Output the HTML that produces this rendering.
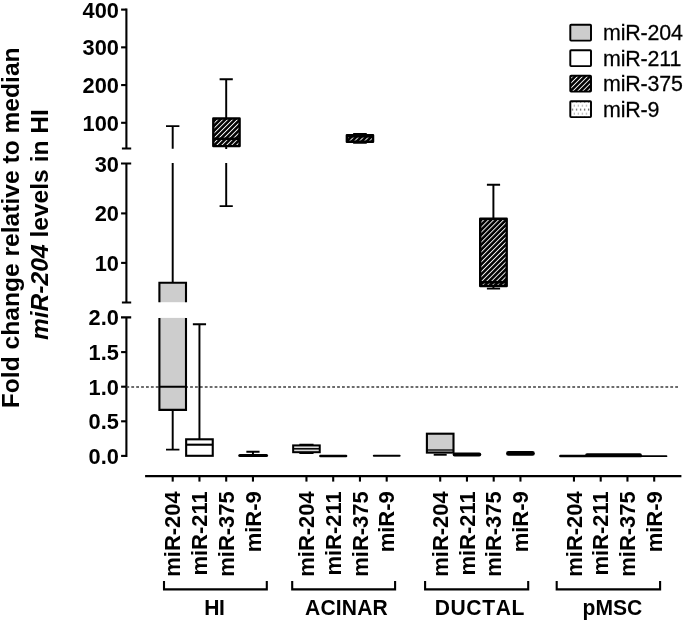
<!DOCTYPE html>
<html lang="en"><head><meta charset="utf-8"><title>Fold change relative to median miR-204 levels in HI</title>
<style>html,body{margin:0;padding:0;background:#fff}body{width:685px;height:621px;overflow:hidden}svg{display:block;will-change:transform;filter:grayscale(1)}</style>
</head><body>
<svg width="685" height="621" viewBox="0 0 685 621">
<defs>
<pattern id="hatch" width="3.5" height="3.5" patternUnits="userSpaceOnUse" patternTransform="rotate(-45)">
<rect width="3.5" height="3.5" fill="#000"/><rect y="0" width="3.5" height="0.95" fill="#f4f4f4"/>
</pattern>
<pattern id="dots" width="4.05" height="8" patternUnits="userSpaceOnUse" x="569.4" y="103.6">
<rect width="4.05" height="8" fill="#fff"/>
<circle cx="0.95" cy="2" r="0.6" fill="#333"/><circle cx="3" cy="6" r="0.72" fill="#111"/>
</pattern>
</defs>
<rect width="685" height="621" fill="#fff"/>
<g font-family="'Liberation Sans', Arial, sans-serif" font-weight="bold" font-size="24.6" fill="#000" text-anchor="middle">
<text transform="translate(19.3 227.8) rotate(-90)">Fold change relative to median</text>
<text transform="translate(48.3 224.6) rotate(-90)"><tspan font-style="italic">miR-204</tspan> levels in HI</text>
</g>
<g stroke="#000" stroke-width="2.1" fill="none" stroke-linecap="butt">
<path d="M126.4 8.6V148.5M121.9 148.5H131.2"/>
<path d="M121.1 9.61H126.4"/>
<path d="M121.1 47.34H126.4"/>
<path d="M121.1 85.07H126.4"/>
<path d="M121.1 122.8H126.4"/>
<path d="M126.4 163.5V302.5M121 163.5H131.2M121.9 302.5H131.2"/>
<path d="M121.1 213.4H126.4"/>
<path d="M121.1 262.9H126.4"/>
<path d="M126.4 317.4V456.9M121 317.4H131.2"/>
<path d="M121.1 352.1H126.4"/>
<path d="M121.1 386.7H126.4"/>
<path d="M121.1 421.3H126.4"/>
<path d="M121.1 455.9H126.4"/>
<path d="M145.1 476.1H681.4"/>
<path d="M172.7 476.1V481.6"/>
<path d="M199.45 476.1V481.6"/>
<path d="M226.2 476.1V481.6"/>
<path d="M252.95 476.1V481.6"/>
<path d="M306.45 476.1V481.6"/>
<path d="M333.2 476.1V481.6"/>
<path d="M359.95 476.1V481.6"/>
<path d="M386.7 476.1V481.6"/>
<path d="M440.2 476.1V481.6"/>
<path d="M466.95 476.1V481.6"/>
<path d="M493.7 476.1V481.6"/>
<path d="M520.45 476.1V481.6"/>
<path d="M573.95 476.1V481.6"/>
<path d="M600.7 476.1V481.6"/>
<path d="M627.45 476.1V481.6"/>
<path d="M654.2 476.1V481.6"/>
</g>
<path d="M126.4 387H679.6" stroke="#3c3c3c" stroke-width="1.55" stroke-dasharray="2.8 2.1" fill="none"/>
<g font-family="'Liberation Sans', Arial, sans-serif" font-weight="bold" font-size="21.8" fill="#000" text-anchor="end">
<text transform="translate(118.9 17.51) scale(1 1.045)">400</text>
<text transform="translate(118.9 55.24) scale(1 1.045)">300</text>
<text transform="translate(118.9 92.97) scale(1 1.045)">200</text>
<text transform="translate(118.9 130.7) scale(1 1.045)">100</text>
<text transform="translate(118.9 171.8) scale(1 1.045)">30</text>
<text transform="translate(118.9 221.3) scale(1 1.045)">20</text>
<text transform="translate(118.9 270.8) scale(1 1.045)">10</text>
<text transform="translate(118.9 325.4) scale(1 1.045)">2.0</text>
<text transform="translate(118.9 360) scale(1 1.045)">1.5</text>
<text transform="translate(118.9 394.6) scale(1 1.045)">1.0</text>
<text transform="translate(118.9 429.2) scale(1 1.045)">0.5</text>
<text transform="translate(118.9 463.8) scale(1 1.045)">0.0</text>
</g>
<g font-family="'Liberation Sans', Arial, sans-serif" font-weight="bold" font-size="22" fill="#000" text-anchor="end">
<text transform="translate(180.3 491.2) rotate(-90) scale(1 1.035)">miR-204</text>
<text transform="translate(207.05 491.2) rotate(-90) scale(1 1.035)">miR-211</text>
<text transform="translate(233.8 491.2) rotate(-90) scale(1 1.035)">miR-375</text>
<text transform="translate(260.55 491.2) rotate(-90) scale(1 1.035)">miR-9</text>
<text transform="translate(314.05 491.2) rotate(-90) scale(1 1.035)">miR-204</text>
<text transform="translate(340.8 491.2) rotate(-90) scale(1 1.035)">miR-211</text>
<text transform="translate(367.55 491.2) rotate(-90) scale(1 1.035)">miR-375</text>
<text transform="translate(394.3 491.2) rotate(-90) scale(1 1.035)">miR-9</text>
<text transform="translate(447.8 491.2) rotate(-90) scale(1 1.035)">miR-204</text>
<text transform="translate(474.55 491.2) rotate(-90) scale(1 1.035)">miR-211</text>
<text transform="translate(501.3 491.2) rotate(-90) scale(1 1.035)">miR-375</text>
<text transform="translate(528.05 491.2) rotate(-90) scale(1 1.035)">miR-9</text>
<text transform="translate(581.55 491.2) rotate(-90) scale(1 1.035)">miR-204</text>
<text transform="translate(608.3 491.2) rotate(-90) scale(1 1.035)">miR-211</text>
<text transform="translate(635.05 491.2) rotate(-90) scale(1 1.035)">miR-375</text>
<text transform="translate(661.8 491.2) rotate(-90) scale(1 1.035)">miR-9</text>
</g>
<g stroke="#000" stroke-width="2.1" fill="none">
<path d="M164 580.9V589.4H266.8V580.9"/>
<path d="M292.2 580.9V589.4H395.1V580.9"/>
<path d="M425.1 580.9V589.4H528.2V580.9"/>
<path d="M556.7 580.9V589.4H660.1V580.9"/>
</g>
<g font-family="'Liberation Sans', Arial, sans-serif" font-weight="bold" font-size="21.1" fill="#000" style="font-kerning:none">
<text transform="translate(204.3 614.8) scale(1 1.045)" letter-spacing="-0.5">HI</text>
<text transform="translate(305.1 614.8) scale(1 1.045)" letter-spacing="0.15">ACINAR</text>
<text transform="translate(434.7 614.8) scale(1 1.045)" letter-spacing="0.6">DUCTAL</text>
<text transform="translate(582.6 614.8) scale(1 1.045)" letter-spacing="0">pMSC</text>
</g>
<g stroke="#000" fill="none">
<path d="M166 126.1H179.4M172.7 126.1V148.8M172.7 163V282.7" stroke-width="1.95"/>
<rect x="159.4" y="282.7" width="26.6" height="19.5" fill="#cdcdcd" stroke="none"/>
<path d="M159.4 302.2V282.7H186V302.2" stroke-width="2.1"/>
<rect x="159.4" y="317.9" width="26.6" height="91.98" fill="#cdcdcd" stroke="none"/>
<path d="M159.4 317.9V409.88H186V317.9M159.4 386.7H186" stroke-width="2.1"/>
<path d="M172.7 409.88V449.6M166 449.6H179.4" stroke-width="1.95"/>
<path d="M192.85 324.3H206.05M199.45 324.3V439" stroke-width="1.95"/>
<rect x="186.15" y="439.3" width="26.6" height="16.5" fill="#fff" stroke="#000" stroke-width="2.1"/>
<path d="M186.15 444.7H212.75" stroke-width="2.1"/>
<path d="M219.6 79.3H232.8M226.2 79.3V148.9M226.2 163V206.1M219.6 206.1H232.8" stroke-width="1.95"/>
<rect x="213.3" y="118.5" width="26.3" height="27.6" fill="url(#hatch)" stroke="#000" stroke-width="2.4" stroke-linejoin="round"/>
<path d="M213.3 138.8H239.6" stroke-width="2.6"/>
<path d="M246.35 451.7H259.55M252.95 451.7V455" stroke-width="1.95"/>
<path d="M239.75 455.6H266.55" stroke-width="3" stroke-linecap="round"/>
<path d="M299.35 444.4H313.55M299.35 453.2H313.55" stroke-width="1.4"/>
<rect x="293.15" y="445.4" width="26.6" height="6.8" fill="#dadada" stroke="#000" stroke-width="2"/>
<path d="M293.15 448.8H319.75" stroke-width="1.5"/>
<path d="M320.4 456H346" stroke-width="2.6" stroke-linecap="round"/>
<rect x="346.85" y="135.2" width="26.2" height="6.5" fill="url(#hatch)" stroke="#000" stroke-width="2.4" stroke-linejoin="round"/>
<path d="M346.85 136.6H373.05" stroke-width="2"/>
<path d="M353.15 133.7H366.75M353.15 143.1H366.75" stroke-width="1.3"/>
<path d="M373.8 455.8H399.6" stroke-width="2" stroke-linecap="round"/>
<rect x="426.9" y="433.7" width="26.6" height="18.9" fill="#cdcdcd" stroke="#000" stroke-width="2.1"/>
<path d="M426.9 450H453.5" stroke-width="1.3"/>
<path d="M433.7 454.8H446.7" stroke-width="1.8"/>
<path d="M454.65 454.4H479.25" stroke-width="4" stroke-linecap="round"/>
<path d="M486.9 184.7H500.1M493.4 184.7V218M493.4 286V288.6M486.9 288.6H500.1" stroke-width="1.95"/>
<rect x="480.2" y="218.8" width="26.5" height="67.2" fill="url(#hatch)" stroke="#000" stroke-width="2.4" stroke-linejoin="round"/>
<path d="M480.2 282.3H506.7" stroke-width="2.6"/>
<path d="M508.45 453.4H532.45" stroke-width="4.8" stroke-linecap="round"/>
<path d="M560.4 456.2H666.5" stroke-width="1.7" stroke-linecap="round"/>
<path d="M560.4 456H641" stroke-width="2.4" stroke-linecap="round"/>
<path d="M587 455H640" stroke-width="3.6" stroke-linecap="round"/>
</g>
<g stroke="#000" stroke-width="1.95">
<rect x="570.3" y="24.8" width="20.7" height="15.8" rx="0.8" fill="#cdcdcd"/>
<rect x="570.3" y="50.3" width="20.7" height="15.8" rx="0.8" fill="#fff"/>
<rect x="570.3" y="75.8" width="20.7" height="15.8" rx="0.8" fill="url(#hatch)"/>
<rect x="570.3" y="101.3" width="20.7" height="15.8" rx="0.8" fill="url(#dots)"/>
</g>
<g font-family="'Liberation Sans', Arial, sans-serif" font-size="21.4" fill="#000" stroke="#000" stroke-width="0.25" letter-spacing="-0.15">
<text transform="translate(603 40.3) scale(1 1.05)">miR-204</text>
<text transform="translate(603 65.8) scale(1 1.05)">miR-211</text>
<text transform="translate(603 91.3) scale(1 1.05)">miR-375</text>
<text transform="translate(603 116.8) scale(1 1.05)">miR-9</text>
</g>
</svg>
</body></html>
